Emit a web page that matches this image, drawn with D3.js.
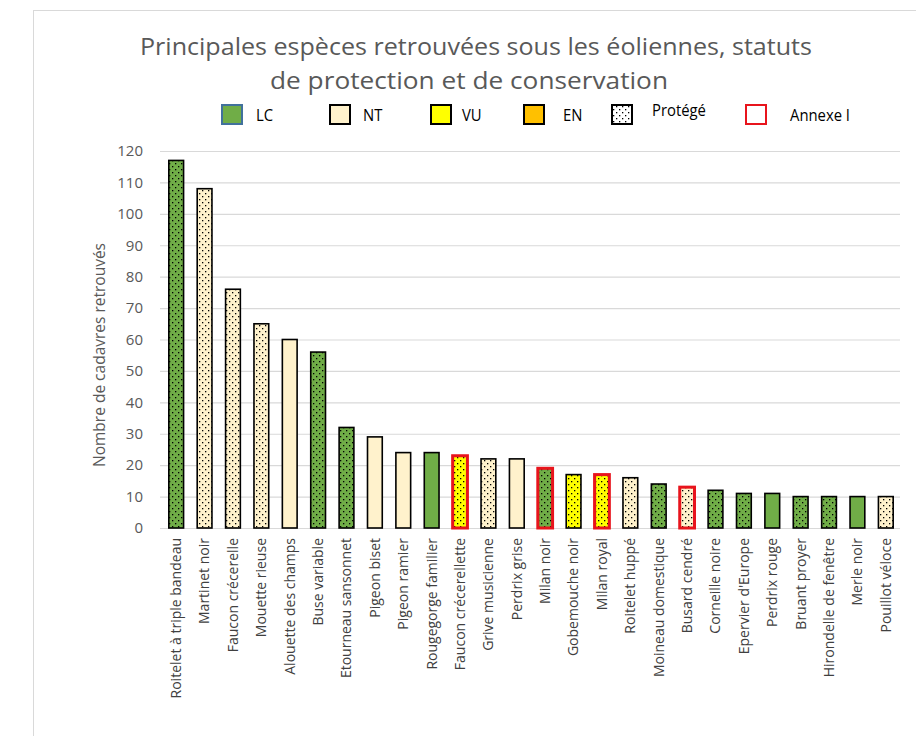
<!DOCTYPE html>
<html>
<head>
<meta charset="utf-8">
<script src="https://cdn.jsdelivr.net/npm/d3@7"></script>
<style>
  body { margin: 0; background: #fff; }
  text { font-family: "Open Sans", sans-serif; }
</style>
</head>
<body>
<svg id="chart" width="916" height="736"></svg>
<script>
    var species = ['Roitelet à triple bandeau', 'Martinet noir', 'Faucon crécerelle', 'Mouette rieuse',
      'Alouette des champs', 'Buse variable', 'Etourneau sansonnet', 'Pigeon biset', 'Pigeon ramier',
      'Rougegorge familier', 'Faucon crécerellette', 'Grive musicienne', 'Perdrix grise', 'Milan noir',
      'Gobemouche noir', 'Milan royal', 'Roitelet huppé', 'Moineau domestique', 'Busard cendré',
      'Corneille noire', "Epervier d'Europe", 'Perdrix rouge', 'Bruant proyer', 'Hirondelle de fenêtre',
      'Merle noir', 'Pouillot véloce'];
    var counts = [117, 108, 76, 65, 60, 56, 32, 29, 24, 24, 23, 22, 22, 19, 17, 17, 16, 14, 13, 12, 11, 11, 10, 10, 10, 10];
    // conservation status per species
    var statuts = ['LC', 'NT', 'NT', 'NT', 'NT', 'LC', 'LC', 'NT', 'NT', 'LC', 'VU', 'NT', 'NT', 'LC',
      'VU', 'VU', 'NT', 'LC', 'NT', 'LC', 'LC', 'LC', 'LC', 'LC', 'LC', 'NT'];
    // protected species (dotted)
    var protege = [1, 1, 1, 1, 0, 1, 1, 0, 0, 0, 1, 1, 0, 1, 1, 1, 1, 1, 1, 1, 1, 0, 1, 1, 0, 1];
    // Annexe I (red outline)
    var annexe = [0, 0, 0, 0, 0, 0, 0, 0, 0, 0, 1, 0, 0, 1, 0, 1, 0, 0, 1, 0, 0, 0, 0, 0, 0, 0];
    var yTicks = [0, 10, 20, 30, 40, 50, 60, 70, 80, 90, 100, 110, 120];
    var legendItems = ['LC', 'NT', 'VU', 'EN', 'Protégé', 'Annexe I'];

    var colors = { LC: '#70ad47', NT: '#fff2cc', VU: '#ffff00', EN: '#ffc000' };

    var data = species.map(function (s, i) {
      return { name: s, value: counts[i], statut: statuts[i], dots: protege[i], annexe: annexe[i] };
    });

    var svg = d3.select('#chart');

    // dotted pattern
    var pat = svg.append('defs').append('pattern')
      .attr('id', 'dots')
      .attr('patternUnits', 'userSpaceOnUse')
      .attr('width', 6).attr('height', 6);
    pat.append('rect').attr('x', 1).attr('y', 1).attr('width', 1.3).attr('height', 1.3).attr('fill', '#000');
    pat.append('rect').attr('x', 4).attr('y', 4).attr('width', 1.3).attr('height', 1.3).attr('fill', '#000');

    // chart frame
    svg.append('rect')
      .attr('x', 33.5).attr('y', 10.5)
      .attr('width', 900).attr('height', 740)
      .attr('fill', 'none').attr('stroke', '#d9d9d9');

    var plotLeft = 162, plotRight = 900, plotTop = 151, plotBottom = 528;

    var xScale = d3.scaleBand()
      .domain(species)
      .range([plotLeft, plotRight])
      .paddingInner(0.48)
      .paddingOuter(0.24);
    var yScale = d3.scaleLinear()
      .domain([0, 120])
      .range([plotBottom, plotTop]);

    // gridlines
    svg.append('g')
      .selectAll('line')
      .data(yTicks)
      .enter()
      .append('line')
      .attr('x1', plotLeft - 2).attr('x2', plotRight)
      .attr('y1', function (d) { return yScale(d) + 0.5; })
      .attr('y2', function (d) { return yScale(d) + 0.5; })
      .attr('stroke', '#d9d9d9')
      .attr('stroke-width', 1.2);

    var yAxis = d3.axisLeft(yScale)
      .tickValues(yTicks)
      .tickSize(0)
      .tickPadding(19);
    var gy = svg.append('g')
      .attr('transform', 'translate(' + plotLeft + ',0)')
      .call(yAxis);
    gy.select('.domain').remove();
    gy.selectAll('text')
      .attr('font-size', '15px')
      .attr('fill', '#595959')
      .style('font-family', '"Open Sans", sans-serif');

    // bars
    var bars = svg.append('g')
      .selectAll('g')
      .data(data)
      .enter()
      .append('g');
    bars.append('rect')
      .attr('x', function (d) { return xScale(d.name); })
      .attr('y', function (d) { return yScale(d.value); })
      .attr('width', xScale.bandwidth())
      .attr('height', function (d) { return plotBottom - yScale(d.value); })
      .attr('fill', function (d) { return colors[d.statut]; });
    bars.filter(function (d) { return d.dots; })
      .append('rect')
      .attr('x', function (d) { return xScale(d.name); })
      .attr('y', function (d) { return yScale(d.value); })
      .attr('width', xScale.bandwidth())
      .attr('height', function (d) { return plotBottom - yScale(d.value); })
      .attr('fill', 'url(#dots)');
    bars.append('rect')
      .attr('x', function (d) { return xScale(d.name); })
      .attr('y', function (d) { return yScale(d.value); })
      .attr('width', xScale.bandwidth())
      .attr('height', function (d) { return plotBottom - yScale(d.value); })
      .attr('fill', 'none')
      .attr('stroke', function (d) { return d.annexe ? '#e8141c' : '#000'; })
      .attr('stroke-width', function (d) { return d.annexe ? 3 : 1.6; });

    // x labels
    var xAxis = d3.axisBottom(xScale).tickSize(0).tickPadding(0);
    var gx = svg.append('g')
      .attr('transform', 'translate(0,' + plotBottom + ')')
      .call(xAxis);
    gx.select('.domain').remove();
    gx.selectAll('text')
      .attr('transform', 'rotate(-90)')
      .attr('x', -10)
      .attr('y', 0)
      .attr('dy', '0.35em')
      .attr('text-anchor', 'end')
      .attr('font-size', '14px')
      .attr('fill', '#404040')
      .style('font-family', '"Open Sans", sans-serif');

    // title
    svg.append('text')
      .attr('x', 476).attr('y', 55)
      .attr('text-anchor', 'middle')
      .attr('font-size', '23px')
      .attr('fill', '#595959')
      .attr('textLength', 672)
      .attr('lengthAdjust', 'spacingAndGlyphs')
      .text('Principales espèces retrouvées sous les éoliennes, statuts');
    svg.append('text')
      .attr('x', 469).attr('y', 89)
      .attr('text-anchor', 'middle')
      .attr('font-size', '23px')
      .attr('fill', '#595959')
      .attr('textLength', 398)
      .attr('lengthAdjust', 'spacingAndGlyphs')
      .text('de protection et de conservation');

    // y label
    svg.append('text')
      .attr('transform', 'rotate(-90)')
      .attr('x', -355)
      .attr('y', 105)
      .attr('text-anchor', 'middle')
      .attr('font-size', '15.5px')
      .attr('fill', '#595959')
      .text('Nombre de cadavres retrouvés');

    // legend
    var legX = [222, 330, 431, 524, 612, 746];
    var legT = [256, 363, 462, 563, 652, 790];
    var leg = svg.append('g')
      .selectAll('g')
      .data(legendItems)
      .enter()
      .append('g');
    leg.append('rect')
      .attr('x', function (d, i) { return legX[i]; })
      .attr('y', 105)
      .attr('width', 20).attr('height', 19)
      .attr('fill', function (d) { return colors[d] || '#fff'; })
      .attr('stroke', function (d) {
        if (d === 'LC') return '#41719c';
        if (d === 'Annexe I') return '#e8141c';
        return '#000';
      })
      .attr('stroke-width', 2);
    leg.filter(function (d) { return d === 'Protégé'; })
      .append('rect')
      .attr('x', legX[4]).attr('y', 105)
      .attr('width', 20).attr('height', 19)
      .attr('fill', 'url(#dots)');
    leg.append('text')
      .attr('x', function (d, i) { return legT[i]; })
      .attr('y', function (d) { return d === 'Protégé' ? 116 : 121; })
      .attr('font-size', '16.5px')
      .attr('fill', '#000')
      .attr('transform', function (d, i) { return 'translate(' + legT[i] + ',0) scale(0.9,1) translate(' + (-legT[i]) + ',0)'; })
      .text(function (d) { return d; });
</script>
</body>
</html>
